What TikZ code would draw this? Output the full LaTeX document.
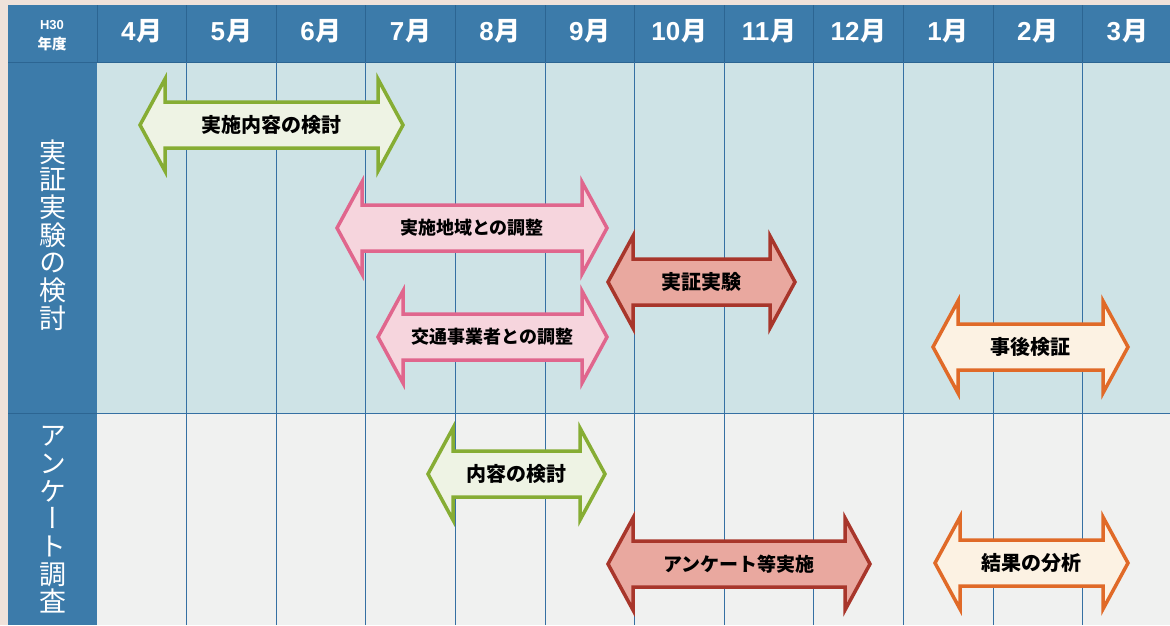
\documentclass[tikz,border=0pt]{standalone}
\usepackage{fontspec}
\setmainfont{Noto Sans CJK JP}
\newfontfamily\vjp[RawFeature=+vert]{Noto Sans CJK JP}
\newfontfamily\digitfont{Liberation Sans}
\definecolor{hdr}{HTML}{3C7BAA}
\definecolor{hdrline}{HTML}{2C6592}
\definecolor{topbg}{HTML}{CEE3E6}
\definecolor{botbg}{HTML}{F0F1F0}
\definecolor{margin}{HTML}{EFE2DA}
\definecolor{grid}{HTML}{3570A3}
\definecolor{gS}{HTML}{86AD34}\definecolor{gF}{HTML}{EEF3E4}
\definecolor{pS}{HTML}{E0668D}\definecolor{pF}{HTML}{F6D5DD}
\definecolor{rS}{HTML}{A8362B}\definecolor{rF}{HTML}{E9A89F}
\definecolor{oS}{HTML}{E06A28}\definecolor{oF}{HTML}{FCF2E3}
\tikzset{
  green arrow/.style={draw=gS,fill=gF},
  pink arrow/.style={draw=pS,fill=pF},
  red arrow/.style={draw=rS,fill=rF},
  orange arrow/.style={draw=oS,fill=oF},
  gridline/.style={draw=grid,line width=1pt},
  hdrgrid/.style={draw=hdrline,line width=0.8pt},
  month/.style={text=white,font=\bfseries\fontsize{26}{26}\selectfont,inner sep=0pt},
  sidelabel/.style={text=white,font=\vjp\fontsize{27}{27.7}\selectfont,align=center,inner sep=0pt},
}
% #1 name, #2 left tip x, #3 right tip x, #4 centre y, #5 style, #6 font size, #7 text
\newcommand{\darrow}[7]{%
  \draw[#5,line width=3.5pt,line join=miter,miter limit=10]
    (#2,#4) -- ({#2+25},{#4-46}) -- ({#2+25},{#4-23}) -- ({#3-25},{#4-23})
    -- ({#3-25},{#4-46}) -- (#3,#4) -- ({#3-25},{#4+46}) -- ({#3-25},{#4+23})
    -- ({#2+25},{#4+23}) -- ({#2+25},{#4+46}) -- cycle;
  \node[font=\bfseries\fontsize{#6}{#6}\selectfont,inner sep=0pt] (#1) at ({(#2+#3)/2},#4) {#7};
}
\begin{document}
\begin{tikzpicture}[x=1pt,y=-1pt]
\useasboundingbox (0,0) rectangle (1170,625);
% margins and backgrounds
\fill[margin] (0,0) rectangle (1170,625);
\fill[hdr] (8,5) rectangle (1170,62);
\fill[hdr] (8,62) rectangle (97,625);
\fill[topbg] (97,62) rectangle (1170,413);
\fill[botbg] (97,413) rectangle (1170,625);
% header grid
\foreach \i in {0,...,11} \draw[hdrgrid] ({97+\i*89.6},5) -- ({97+\i*89.6},62);
\draw[hdrgrid] (8,62) -- (1170,62);
\draw[hdrgrid] (8,413) -- (97,413);
% body grid
\foreach \i in {1,...,11} \draw[gridline] ({97+\i*89.6},62) -- ({97+\i*89.6},625);
\draw[gridline] (97,413) -- (1170,413);
% header labels
\node[text=white,font=\bfseries\fontsize{13}{13}\selectfont,inner sep=0pt] (h30) at (52,25) {\digitfont H30};
\node[text=white,font=\bfseries\fontsize{14.5}{14.5}\selectfont,inner sep=0pt] (nendo) at (52,44) {年度};
\foreach \m [count=\i from 0] in {4,5,6,7,8,9,10,11,12,1,2,3}
  \node[month] (m\i) at ({141.8+\i*89.6},31) {{\digitfont\bfseries \m}\kern1pt 月};
% side labels
\node[sidelabel] (side1) at (52.5,235) {実\\証\\実\\験\\の\\検\\討};
\node[sidelabel] (side2) at (52.5,520) {ア\\ン\\ケ\\ー\\ト\\調\\査};
% arrows
\darrow{a1}{140}{403}{125}{green arrow}{20}{実施内容の検討}
\darrow{a2}{337}{607}{228}{pink arrow}{18}{実施地域との調整}
\darrow{a4}{378}{607}{337}{pink arrow}{18}{交通事業者との調整}
\darrow{a3}{608}{795}{282}{red arrow}{20}{実証実験}
\darrow{a5}{933}{1128}{347}{orange arrow}{20}{事後検証}
\darrow{a6}{428}{605}{474}{green arrow}{20}{内容の検討}
\darrow{a7}{608}{870}{564}{red arrow}{19}{アンケート等実施}
\darrow{a8}{935}{1128}{563}{orange arrow}{20}{結果の分析}
\end{tikzpicture}
\end{document}
